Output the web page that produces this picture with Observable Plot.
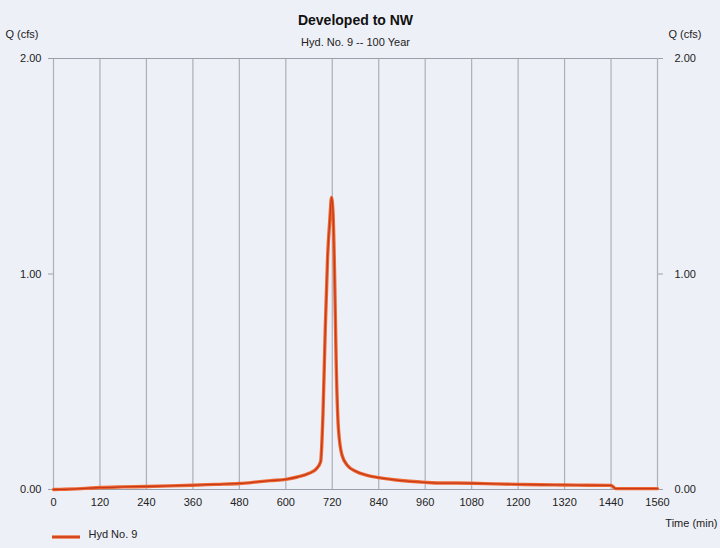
<!DOCTYPE html>
<html>
<head>
<meta charset="utf-8">
<script src="https://cdn.jsdelivr.net/npm/d3@7"></script>
<script src="https://cdn.jsdelivr.net/npm/@observablehq/plot@0.6"></script>
<style>
  html, body { margin: 0; padding: 0; background: #eef0f7; }
  #chart { width: 720px; height: 548px; }
</style>
</head>
<body>
<div id="chart"></div>
<script>
const times = [0, 30, 60, 90, 120, 180, 240, 300, 360, 420, 480, 520, 560, 600, 630, 660, 680, 690, 696, 702, 708, 714, 718, 722, 726, 730, 736, 745, 760, 780, 810, 840, 880, 920, 960, 1000, 1040, 1080, 1140, 1200, 1260, 1320, 1380, 1440, 1452, 1500, 1560];
const flows = [0.000, 0.001, 0.003, 0.006, 0.009, 0.012, 0.014, 0.017, 0.020, 0.024, 0.028, 0.034, 0.041, 0.047, 0.058, 0.075, 0.098, 0.130, 0.350, 0.750, 1.080, 1.260, 1.355, 1.280, 1.000, 0.600, 0.280, 0.160, 0.110, 0.085, 0.066, 0.055, 0.045, 0.038, 0.033, 0.030, 0.030, 0.029, 0.026, 0.024, 0.022, 0.021, 0.020, 0.019, 0.004, 0.004, 0.004];
const xTickValues = [0, 120, 240, 360, 480, 600, 720, 840, 960, 1080, 1200, 1320, 1440, 1560];
const yTickValues = [0, 1, 2];
const titleText = "Developed to NW";
const subtitleText = "Hyd. No. 9 -- 100 Year";
const yLabel = "Q (cfs)";
const xLabel = "Time (min)";
const seriesName = "Hyd No. 9";

const data = times.map((t, i) => ({t, q: flows[i]}));
const fmt = d => d.toFixed(2);
const font = "'Liberation Sans', Arial, sans-serif";

const chart = Plot.plot({
  width: 720,
  height: 548,
  marginLeft: 53,
  marginRight: 63,
  marginTop: 58,
  marginBottom: 59,
  style: {background: "transparent", fontFamily: font, fontSize: "11px", color: "#222"},
  x: {domain: [0, 1560], label: null},
  y: {domain: [0, 2], label: null},
  marks: [
    Plot.gridX(xTickValues, {stroke: "#959aa8", strokeOpacity: 0.75, strokeWidth: 1.2}),
    Plot.ruleY([0, 2], {stroke: "#9aa0ad", strokeWidth: 1}),
    Plot.axisX({ticks: xTickValues, tickSize: 0, tickPadding: 9, tickFormat: d3.format("d"), label: null, fontSize: 11}),
    Plot.axisY({anchor: "left", ticks: yTickValues, tickSize: 5, tickPadding: 7, tickFormat: fmt, label: null, stroke: "#9aa0ad"}),
    Plot.axisY({anchor: "right", ticks: yTickValues, tickSize: 5, tickPadding: 12, tickFormat: fmt, label: null, stroke: "#9aa0ad"}),
    Plot.line(data, {x: "t", y: "q", stroke: "#ee6a32", strokeWidth: 3.4, curve: "monotone-x"}),
    Plot.line(data, {x: "t", y: "q", stroke: "#c8391a", strokeWidth: 1.3, curve: "monotone-x"}),
    Plot.text([titleText], {frameAnchor: "top", dy: -43, fontSize: 14, fontWeight: "bold", fill: "#111"}),
    Plot.text([subtitleText], {frameAnchor: "top", dy: -20, fontSize: 11, fill: "#222"}),
    Plot.text([yLabel], {frameAnchor: "top-left", textAnchor: "start", dx: -48, dy: -28, fontSize: 11, fill: "#222"}),
    Plot.text([yLabel], {frameAnchor: "top-right", textAnchor: "start", dx: 11, dy: -28, fontSize: 11, fill: "#222"}),
    Plot.text([xLabel], {frameAnchor: "bottom-right", textAnchor: "end", dx: 60, dy: 37, fontSize: 11, fill: "#222"}),
    Plot.text([seriesName], {frameAnchor: "bottom-left", textAnchor: "start", dx: 35, dy: 48, fontSize: 11, fill: "#222"})
  ]
});

// legend swatch
d3.select(chart).append("line")
  .attr("x1", 52).attr("x2", 80).attr("y1", 537).attr("y2", 537)
  .attr("stroke", "#ee6a32").attr("stroke-width", 3.4);
d3.select(chart).append("line")
  .attr("x1", 52).attr("x2", 80).attr("y1", 537).attr("y2", 537)
  .attr("stroke", "#c8391a").attr("stroke-width", 1.3);

document.getElementById("chart").append(chart);
</script>
</body>
</html>
